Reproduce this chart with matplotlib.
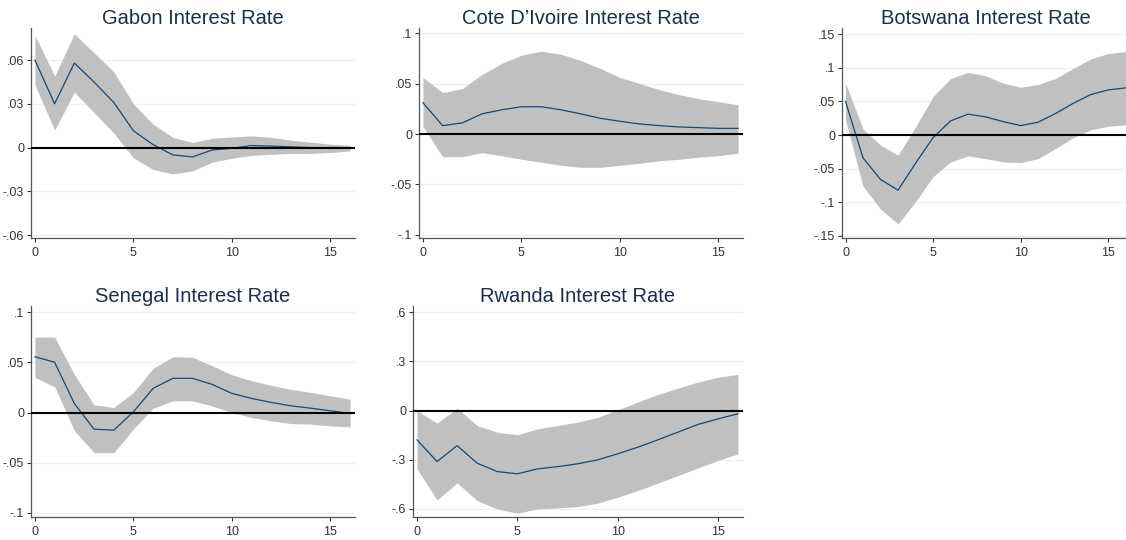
import numpy as np
import matplotlib.pyplot as plt
from matplotlib.ticker import FuncFormatter

plt.rcParams['font.family'] = ['Liberation Sans', 'DejaVu Sans']

steps = list(range(17))

# Gabon
gabon_irf = [0.060, 0.030, 0.058, 0.045, 0.031, 0.0115, 0.002, -0.005, -0.0064, -0.0016,
             -0.0005, 0.0014, 0.001, 0.0005, 0.0, 0.0, 0.0]
gabon_hi = [0.077, 0.049, 0.078, 0.065, 0.052, 0.030, 0.016, 0.007, 0.0035, 0.0064,
            0.0073, 0.008, 0.007, 0.005, 0.0037, 0.0023, 0.0016]
gabon_lo = [0.043, 0.012, 0.038, 0.024, 0.010, -0.007, -0.015, -0.018, -0.016, -0.010,
            -0.0073, -0.0053, -0.0046, -0.004, -0.004, -0.0034, -0.0023]

# Cote D'Ivoire
cote_irf = [0.031, 0.0083, 0.011, 0.020, 0.024, 0.027, 0.027, 0.024, 0.020, 0.0156,
            0.0126, 0.010, 0.0083, 0.007, 0.0063, 0.0056, 0.0056]
cote_hi = [0.056, 0.041, 0.045, 0.059, 0.070, 0.078, 0.082, 0.079, 0.073, 0.065,
           0.056, 0.050, 0.044, 0.039, 0.035, 0.032, 0.029]
cote_lo = [0.0073, -0.0225, -0.0225, -0.0185, -0.0215, -0.025, -0.028, -0.031, -0.033, -0.033,
           -0.031, -0.029, -0.0265, -0.025, -0.023, -0.0215, -0.019]

# Botswana
bots_irf = [0.050, -0.034, -0.066, -0.082, -0.042, -0.004, 0.021, 0.031, 0.027, 0.020,
            0.014, 0.019, 0.032, 0.047, 0.060, 0.067, 0.070]
bots_hi = [0.077, 0.009, -0.015, -0.030, 0.012, 0.057, 0.084, 0.093, 0.088, 0.077,
           0.071, 0.075, 0.084, 0.099, 0.113, 0.121, 0.124]
bots_lo = [0.022, -0.076, -0.110, -0.132, -0.099, -0.062, -0.040, -0.031, -0.035, -0.040,
           -0.041, -0.035, -0.020, -0.004, 0.0075, 0.013, 0.015]

# Senegal
sen_irf = [0.0555, 0.050, 0.009, -0.0166, -0.0176, 0.0007, 0.024, 0.034, 0.034, 0.028,
           0.019, 0.014, 0.010, 0.0066, 0.0043, 0.0017, -0.001]
sen_hi = [0.075, 0.075, 0.038, 0.0076, 0.005, 0.020, 0.044, 0.0555, 0.055, 0.0465,
          0.0375, 0.0316, 0.027, 0.023, 0.020, 0.0166, 0.0133]
sen_lo = [0.035, 0.0256, -0.018, -0.040, -0.040, -0.0166, 0.0043, 0.0116, 0.0116, 0.0066,
          0.0, -0.005, -0.0083, -0.011, -0.0116, -0.0133, -0.0143]

# Rwanda
rwa_irf = [-0.179, -0.311, -0.214, -0.321, -0.372, -0.386, -0.356, -0.342, -0.325, -0.301,
           -0.264, -0.224, -0.179, -0.132, -0.085, -0.051, -0.020]
rwa_hi = [0.0, -0.077, 0.014, -0.092, -0.132, -0.148, -0.112, -0.092, -0.071, -0.041,
          0.004, 0.051, 0.098, 0.136, 0.173, 0.203, 0.220]
rwa_lo = [-0.356, -0.545, -0.441, -0.549, -0.600, -0.626, -0.600, -0.594, -0.586, -0.565,
          -0.529, -0.488, -0.443, -0.397, -0.350, -0.305, -0.264]

titles = ["Gabon Interest Rate", "Cote D\u2019Ivoire Interest Rate", "Botswana Interest Rate",
          "Senegal Interest Rate", "Rwanda Interest Rate"]
y_ticks = [[-0.06, -0.03, 0, 0.03, 0.06],
           [-0.1, -0.05, 0, 0.05, 0.1],
           [-0.15, -0.1, -0.05, 0, 0.05, 0.1, 0.15],
           [-0.1, -0.05, 0, 0.05, 0.1],
           [-0.6, -0.3, 0, 0.3, 0.6]]
y_lims = [(-0.062, 0.082), (-0.103, 0.105), (-0.153, 0.159), (-0.104, 0.106), (-0.649, 0.637)]

series = [(gabon_irf, gabon_lo, gabon_hi), (cote_irf, cote_lo, cote_hi),
          (bots_irf, bots_lo, bots_hi), (sen_irf, sen_lo, sen_hi), (rwa_irf, rwa_lo, rwa_hi)]

# axes boxes in pixels: left, bottom, width, height (converted to figure fraction below)
W, H = 1126, 540
boxes = [(31, 238, 324, 210), (419, 238, 324, 210), (842, 238, 288, 210),
         (31, 517, 324, 211), (413, 517, 330, 211)]


def stata_fmt(v, pos):
    if abs(v) < 1e-12:
        return "0"
    s = ("%.2f" % v).rstrip("0")
    s = s.replace("0.", ".")
    return s


fig = plt.figure(figsize=(W / 100, H / 100), dpi=100)

for i in range(5):
    left, bottom, w, h = boxes[i]
    ax = fig.add_axes([left / W, (H - bottom) / H, w / W, h / H])
    irf, lo, hi = series[i]
    ax.fill_between(steps, lo, hi, color='#c0c0c0', linewidth=0, zorder=2)
    ax.plot(steps, irf, color='#1a476f', linewidth=0.9, zorder=3)
    ax.axhline(0, color='black', linewidth=1.5, zorder=4)

    ax.set_xlim(-0.2, 16.25)
    ax.set_ylim(*y_lims[i])
    ax.set_xticks([0, 5, 10, 15])
    ax.set_yticks(y_ticks[i])
    ax.yaxis.set_major_formatter(FuncFormatter(stata_fmt))
    ax.grid(axis='y', color='#e8f0f2', linewidth=0.9, zorder=1)
    ax.set_axisbelow(True)

    for s in ['top', 'right']:
        ax.spines[s].set_visible(False)
    for s in ['left', 'bottom']:
        ax.spines[s].set_color('#555555')
        ax.spines[s].set_linewidth(0.9)
    ax.tick_params(axis='both', labelsize=9, colors='#333333', length=3, width=0.8, pad=2)
    ax.tick_params(axis='x', pad=3.5)

    ax.set_title(titles[i], fontsize=14.5, color='#1c2d4f', pad=2.5)

plt.savefig('out.png', dpi=100)
